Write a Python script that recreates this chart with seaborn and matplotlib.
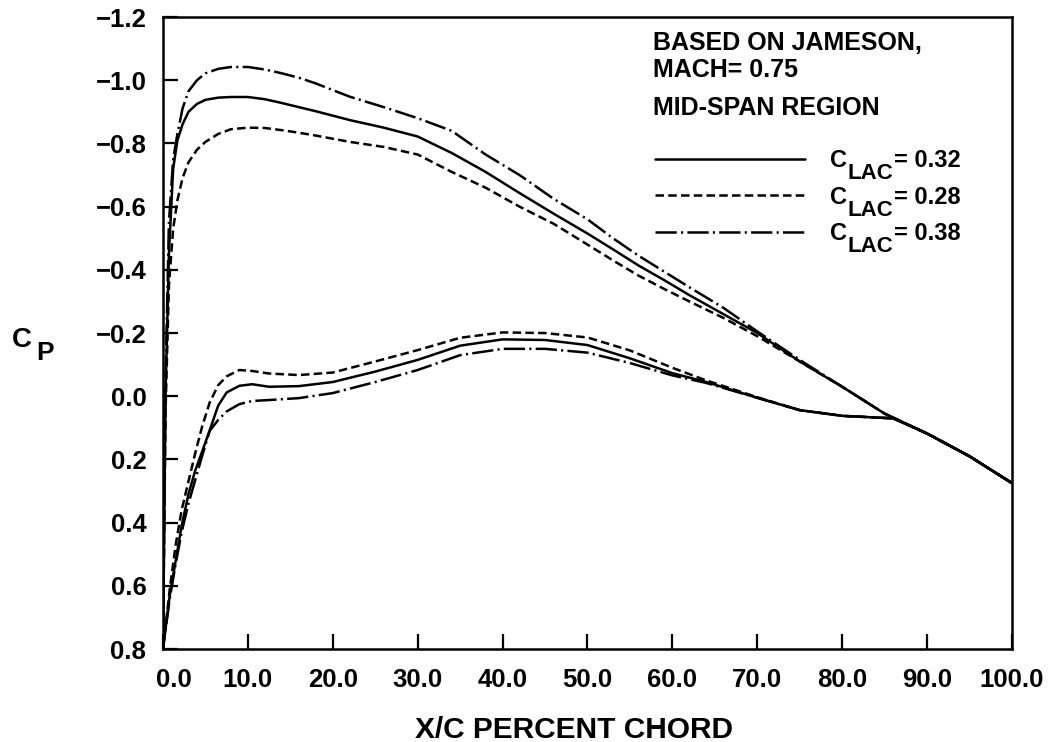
import numpy as np
import pandas as pd
import matplotlib
matplotlib.use("Agg")
import matplotlib.pyplot as plt
import matplotlib.transforms as mtransforms
import seaborn as sns

# chord stations (percent chord)
x_upper = [0, 0.3, 0.7, 1.2, 1.7, 2.3, 3, 4, 5, 6.5, 8, 10, 12, 14, 16, 18, 22, 26, 30, 34,
           38, 42, 46, 50, 53, 56, 59, 62, 66, 70, 75, 80, 85, 90, 95, 100]
x_lower = [0, 0.8, 1.5, 2.2, 3, 3.8, 4.6, 5.5, 6.5, 7.5, 9, 10.5, 12.5, 16, 20, 25, 30, 35,
           40, 45, 50, 55, 60, 64, 70, 75, 80, 86, 90, 95, 100]

# upper surface Cp
cp_upper_032 = [0.8, 0.0, -0.45, -0.72, -0.81, -0.86, -0.90, -0.925, -0.938, -0.945,
                -0.947, -0.947, -0.94, -0.928, -0.915, -0.902, -0.874, -0.85, -0.822, -0.77,
                -0.71, -0.643, -0.578, -0.515, -0.465, -0.414, -0.368, -0.32, -0.26, -0.20,
                -0.11, -0.03, 0.055, 0.118, 0.19, 0.275]
cp_upper_028 = [0.8, 0.05, -0.35, -0.53, -0.62, -0.69, -0.74, -0.78, -0.805, -0.83,
                -0.845, -0.85, -0.849, -0.842, -0.834, -0.825, -0.805, -0.789, -0.765, -0.71,
                -0.66, -0.60, -0.546, -0.48, -0.43, -0.382, -0.34, -0.30, -0.248, -0.19,
                -0.11, -0.03, 0.055, 0.118, 0.19, 0.275]
cp_upper_038 = [0.8, -0.05, -0.55, -0.75, -0.83, -0.91, -0.965, -1.0, -1.022, -1.036,
                -1.042, -1.042, -1.034, -1.022, -1.008, -0.99, -0.948, -0.915, -0.88, -0.84,
                -0.765, -0.70, -0.625, -0.56, -0.50, -0.445, -0.395, -0.345, -0.28, -0.205,
                -0.115, -0.03, 0.055, 0.118, 0.19, 0.275]

# lower surface Cp
cp_lower_032 = [0.8, 0.63, 0.52, 0.41, 0.31, 0.235, 0.176, 0.108, 0.03, -0.012,
                -0.033, -0.038, -0.03, -0.032, -0.045, -0.078, -0.115, -0.16, -0.18, -0.178,
                -0.162, -0.12, -0.073, -0.045, 0.005, 0.044, 0.062, 0.07, 0.118, 0.19, 0.275]
cp_lower_028 = [0.8, 0.61, 0.47, 0.36, 0.27, 0.18, 0.097, 0.02, -0.035, -0.063,
                -0.083, -0.08, -0.072, -0.067, -0.075, -0.11, -0.146, -0.185, -0.202, -0.2,
                -0.186, -0.145, -0.09, -0.05, 0.003, 0.044, 0.062, 0.07, 0.118, 0.19, 0.275]
cp_lower_038 = [0.8, 0.64, 0.53, 0.43, 0.34, 0.265, 0.19, 0.11, 0.075, 0.048,
                0.025, 0.015, 0.012, 0.006, -0.01, -0.045, -0.083, -0.13, -0.15, -0.15,
                -0.138, -0.105, -0.066, -0.042, 0.005, 0.044, 0.062, 0.07, 0.118, 0.19, 0.275]

cl_labels = ["0.32", "0.28", "0.38"]
note_lines = ["BASED ON JAMESON,", "MACH= 0.75", "MID-SPAN REGION"]
x_ticks = [0, 10, 20, 30, 40, 50, 60, 70, 80, 90, 100]
y_ticks = [-1.2, -1.0, -0.8, -0.6, -0.4, -0.2, 0.0, 0.2, 0.4, 0.6, 0.8]

sns.set_style("ticks")
plt.rcParams['font.family'] = ['Liberation Sans', 'DejaVu Sans']
plt.rcParams['font.weight'] = 'bold'
plt.rcParams['axes.labelweight'] = 'bold'
plt.rcParams['text.color'] = 'black'
plt.rcParams['axes.labelcolor'] = 'black'
plt.rcParams['xtick.color'] = 'black'
plt.rcParams['ytick.color'] = 'black'

fig = plt.figure(figsize=(10.61, 7.42), dpi=100)
ax = fig.add_axes([0.1536, 0.1253, 0.8002, 0.8517])

styles = {
    "0.32": "-",
    "0.28": (0, (3.4, 1.7)),
    "0.38": (0, (8.5, 1.7, 0.85, 1.7)),
}
uppers = {"0.32": cp_upper_032, "0.28": cp_upper_028, "0.38": cp_upper_038}
lowers = {"0.32": cp_lower_032, "0.28": cp_lower_028, "0.38": cp_lower_038}

handles = []
for cl in cl_labels:
    # one loop: trailing edge -> upper surface -> leading edge -> lower surface
    df = pd.DataFrame({
        "x": x_upper[::-1] + x_lower[1:],
        "cp": uppers[cl][::-1] + lowers[cl][1:],
    })
    sns.lineplot(data=df, x="x", y="cp", sort=False, estimator=None, color="black",
                 lw=1.8, linestyle=styles[cl], ax=ax, legend=False)
    handles.append(ax.lines[-1])

ax.set_xlim(0, 100)
ax.set_ylim(0.8, -1.2)
ax.set_xticks(x_ticks)
ax.set_xticklabels([f"{t:.1f}" for t in x_ticks])
ax.set_yticks(y_ticks)
ax.set_yticklabels([f"{t:.1f}".replace("-", "\u2212") for t in y_ticks])
ax.tick_params(direction="in", length=11, width=1.6, labelsize=18.5, top=False, right=False)
ax.tick_params(axis="x", pad=14)
ax.tick_params(axis="y", pad=12)
for s in ax.spines.values():
    s.set_linewidth(1.8)
    s.set_color("black")

# first x label sits a little right of its tick in the original
first = ax.get_xticklabels()[0]
first.set_transform(first.get_transform() +
                    mtransforms.ScaledTranslation(8 / 72, 0, fig.dpi_scale_trans))

ax.set_xlabel("X/C PERCENT CHORD", fontsize=21.5, fontweight="bold")
ax.xaxis.set_label_coords(0.484, -0.106)

# C with a large subscript P
ax.set_ylabel("C", fontsize=20, fontweight="bold", rotation=0, ha="left", va="baseline")
ax.yaxis.set_label_coords(-0.178, 0.478)
ax.annotate("P", xy=(1, 0), xycoords=ax.yaxis.label, xytext=(3.5, -5),
            textcoords="offset points", ha="left", va="baseline", fontsize=19,
            fontweight="bold")

# note block
for line, yy in zip(note_lines, [0.9478, 0.9051, 0.8449]):
    ax.text(0.5771, yy, line, transform=ax.transAxes, fontsize=18, fontweight="bold",
            va="baseline", ha="left")

leg = ax.legend(handles, ["C"] * len(cl_labels),
                loc="upper left", bbox_to_anchor=(0.5795, 0.791), frameon=False,
                fontsize=17, handlelength=6.35, handletextpad=1.06, labelspacing=0.57,
                borderpad=0, borderaxespad=0)
for txt, cl in zip(leg.get_texts(), cl_labels):
    lac = ax.annotate("LAC", xy=(1, 0), xycoords=txt, xytext=(0.5, -5),
                      textcoords="offset points", ha="left", va="baseline",
                      fontsize=16, fontweight="bold", zorder=10)
    ax.annotate("= " + cl, xy=(1, 0), xycoords=(lac, txt), xytext=(0.5, 0),
                textcoords="offset points", ha="left", va="bottom",
                fontsize=17, fontweight="bold", zorder=10)

fig.canvas.draw()
fig.savefig("out.png", dpi=100)
